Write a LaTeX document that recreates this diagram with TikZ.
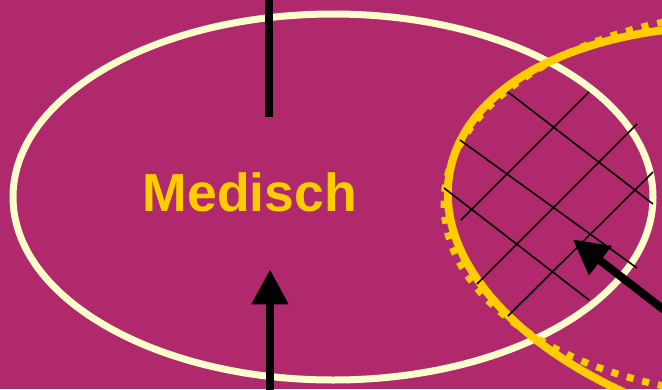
\documentclass[tikz,border=0pt]{standalone}
\usepackage{fontspec}
\setmainfont{Liberation Sans}
\usepackage{tikz}
\usetikzlibrary{arrows.meta}

\definecolor{plum}{HTML}{B0296C}
\definecolor{cream}{HTML}{FFFFCC}
\definecolor{gold}{HTML}{FFCC00}

\begin{document}
\begin{tikzpicture}[
        x=1pt, y=-1pt,
        ring/.style={
            draw=cream,
            line width=7pt
        },
        goldring/.style={
            draw=gold,
            line width=8pt
        },
        dotring/.style={
            draw=gold,
            line width=7pt,
            dash pattern=on 7pt off 9pt
        },
        hatch/.style={
            black,
            line width=1.6pt
        },
        bar/.style={
            black,
            line width=8pt
        },
        arrow/.style={
            bar,
            -{Triangle[length=35pt, width=35pt]}
        },
        label/.style={
            text=gold,
            font=\bfseries\fontsize{53.6}{60}\selectfont,
            inner sep=0pt,
            anchor=base
        }
    ]

    % --------------------------------------------------------
    % Canvas
    % --------------------------------------------------------

    \useasboundingbox (0,0) rectangle (662,389);
    \fill[plum] (0,0) rectangle (662,389);
    \clip (0,0) rectangle (662,389);

    % --------------------------------------------------------
    % Ellipses
    % --------------------------------------------------------

    \draw[ring]
        (333,197) ellipse [x radius=320, y radius=183];

    \draw[goldring, rotate around={-10.1:(803,236)}]
        (803,236) ellipse [x radius=359, y radius=203.5];

    \draw[dotring]
        (774,204) ellipse [x radius=330, y radius=193];

    % Hatched overlap
    \draw[hatch]
        (508,92) -- (653,204)
        (460,140) -- (637,268)
        (444,188) -- (589,300)
        (461,220) -- (589,92)
        (477,284) -- (637,124)
        (508,316) -- (653,172);

    % --------------------------------------------------------
    % Label
    % --------------------------------------------------------

    \node[label] (medisch) at (250,211.7) {Medisch};

    % --------------------------------------------------------
    % Arrows
    % --------------------------------------------------------

    \coordinate (topIn)  at (269,-10);
    \coordinate (topEnd) at (269,117);

    \coordinate (botIn)  at (270,400);
    \coordinate (botTip) at (270,269.3);

    \coordinate (rightIn)  at (690,330);
    \coordinate (rightTip) at (572.7,239.3);

    % Top -> into ellipse
    \draw[bar]
        (topIn) -- (topEnd);

    % Bottom -> into ellipse
    \draw[arrow]
        (botIn) -- (botTip);

    % Right -> into overlap
    \draw[arrow]
        (rightIn) -- (rightTip);

\end{tikzpicture}
\end{document}
